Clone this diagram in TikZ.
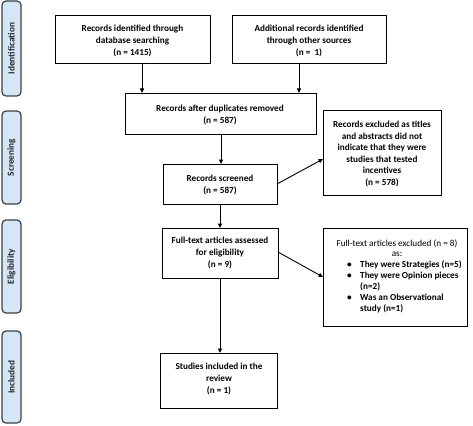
\documentclass[tikz,border=0pt]{standalone}
\usepackage{fontspec}
\setmainfont{Carlito}
\usetikzlibrary{arrows.meta,patterns}
\definecolor{sidefill}{HTML}{D5E6F4}
\definecolor{sidedraw}{HTML}{3A3F46}
\begin{document}
\begin{tikzpicture}[x=1pt,y=-1pt,
  box/.style={draw, line width=0.8pt, fill=white},
  txt/.style={font=\fontsize{9.2}{11.6}\selectfont\bfseries, align=center, inner sep=0pt},
  rtxt/.style={font=\fontsize{9.2}{10.5}\selectfont, align=center, inner sep=0pt},
  side/.style={draw=sidedraw, line width=1.2pt, rounded corners=4pt, fill=sidefill},
  sidetxt/.style={font=\fontsize{9.3}{10}\selectfont\bfseries, rotate=90, text=black!85},
  arr/.style={-{Triangle[length=4.5pt,width=4pt]}, line width=0.9pt}]
\useasboundingbox (0,0) rectangle (473,425);
% side labels
\draw[side] (2,1) rectangle (21,96);
\draw[side] (2,111) rectangle (21,204);
\draw[side] (2,220) rectangle (21,313);
\draw[side] (2,331) rectangle (21,423);
\node[sidetxt] (sid) at (11.5,48.5) {Identification};
\node[sidetxt] (sscr) at (11.5,157.5) {Screening};
\node[sidetxt] (selg) at (11.5,266.5) {Eligibility};
\node[sidetxt] (sinc) at (11.5,377) {Included};
% boxes
\draw[box] (55,15) rectangle (210,63);
\node[txt] (t1) at (132.5,41) {Records identified through\\database searching\\(n = 1415)};
\draw[box] (232,15) rectangle (386,63);
\node[txt] (t2) at (309,41) {Additional records identified\\through other sources\\(n =\ \ 1)};
\draw[box] (125,93) rectangle (316,134);
\node[txt] (t3) at (220,115) {Records after duplicates removed\\(n = 587)};
\draw[box] (323,110) rectangle (441,195);
\node[txt] (t4) at (382,154) {Records excluded as titles\\and abstracts did not\\indicate that they were\\studies that tested\\incentives\\(n = 578)};
\draw[box] (163,164) rectangle (277,204);
\node[txt] (t5) at (220,185) {Records screened\\(n = 587)};
\draw[box] (162,228) rectangle (278,278);
\node[txt] (t6) at (220,253) {Full-text articles assessed\\for eligibility\\(n = 9)};
\draw[box] (323,228) rectangle (467,326);
\node[rtxt] (t7) at (397,248) {Full-text articles excluded (n = 8)\\as:};
\node[txt, align=left, anchor=north west] (t8) at (347,260) {%
\makebox[13pt][l]{•}They were Strategies (n=5)\\[-0.6pt]
\makebox[13pt][l]{•}They were Opinion pieces\\[-0.6pt]
\makebox[13pt][l]{}(n=2)\\[-0.6pt]
\makebox[13pt][l]{•}Was an Observational\\[-0.6pt]
\makebox[13pt][l]{}study (n=1)};
\draw[box] (160,353) rectangle (277,408);
\node[txt] (t9) at (219,379) {Studies included in the\\review\\(n = 1)};
% arrows
\coordinate (a1s) at (142,63); \coordinate (a1e) at (142,93);
\coordinate (a2s) at (299,63); \coordinate (a2e) at (299,93);
\coordinate (a3s) at (221,134); \coordinate (a3e) at (221,164);
\coordinate (a4s) at (277,184); \coordinate (a4e) at (323,159);
\coordinate (a5s) at (220,204); \coordinate (a5e) at (220,228);
\coordinate (a6s) at (278,252); \coordinate (a6e) at (323,277);
\coordinate (a7s) at (220,278); \coordinate (a7e) at (220,353);
\draw[arr] (a1s) -- (a1e);
\draw[arr] (a2s) -- (a2e);
\draw[arr] (a3s) -- (a3e);
\draw[arr] (a4s) -- (a4e);
\draw[arr] (a5s) -- (a5e);
\draw[arr] (a6s) -- (a6e);
\draw[arr] (a7s) -- (a7e);
\end{tikzpicture}
\end{document}
